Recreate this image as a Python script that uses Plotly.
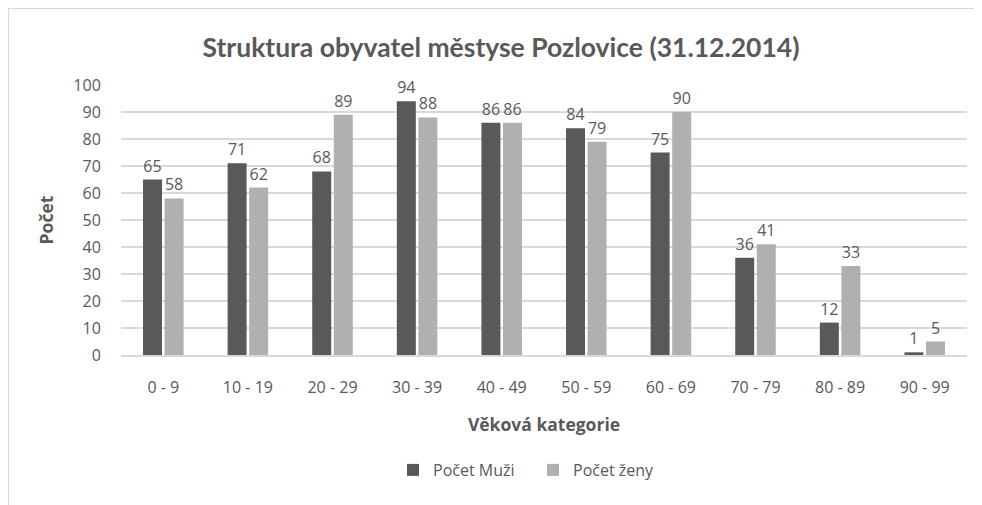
import plotly.graph_objects as go

categories = ["0 - 9", "10 - 19", "20 - 29", "30 - 39", "40 - 49", "50 - 59", "60 - 69", "70 - 79", "80 - 89", "90 - 99"]
muzi = [65, 71, 68, 94, 86, 84, 75, 36, 12, 1]
zeny = [58, 62, 89, 88, 86, 79, 90, 41, 33, 5]
y_ticks = list(range(0, 101, 10))

OFF = 8  # page body margin
W, H = 982 - OFF, 505 - OFF
ML, MR, MT, MB = 121 - OFF, 15, 85 - OFF, 505 - 355
pw, ph = W - ML - MR, H - MT - MB

def px_x(p):
    return (p - OFF - ML) / pw

def px_y(p):
    return (H - MB - (p - OFF)) / ph

txt = "#595959"
font_fam = "Open Sans, sans-serif"

fig = go.Figure()
fig.add_trace(go.Bar(name="Počet Muži", x=categories, y=muzi, marker=dict(color="#595959", line=dict(width=0)),
                     text=muzi, textposition="outside", cliponaxis=False,
                     textfont=dict(size=16, color=txt, family=font_fam)))
fig.add_trace(go.Bar(name="Počet ženy", x=categories, y=zeny, marker=dict(color="#b0b0b0", line=dict(width=0)),
                     text=zeny, textposition="outside", cliponaxis=False,
                     textfont=dict(size=16, color=txt, family=font_fam)))

fig.update_layout(
    width=W, height=H,
    margin=dict(l=ML, r=MR, t=MT, b=MB),
    paper_bgcolor="white", plot_bgcolor="white",
    barmode="group", bargap=0.49, bargroupgap=0.12,
    font=dict(family=font_fam, color=txt, size=15),
    title=dict(text="<b>Struktura obyvatel městyse Pozlovice (31.12.2014)</b>",
               x=(501 - OFF) / W, xanchor="center", y=1 - (48 - OFF) / H, yanchor="middle",
               font=dict(family="Lato, sans-serif", size=26.5, color=txt)),
    xaxis=dict(title=dict(text="<b>Věková kategorie</b>", font=dict(size=17.5, color=txt), standoff=22),
               tickfont=dict(size=16, color=txt), showline=True, linecolor="#d9d9d9",
               linewidth=1.5, ticks="outside", ticklen=17, tickcolor="rgba(0,0,0,0)", showgrid=False),
    yaxis=dict(title=dict(text="<b>Počet</b>", font=dict(size=17.5, color=txt), standoff=15),
               range=[0, 100], tickvals=y_ticks, tickfont=dict(size=16, color=txt),
               showgrid=True, gridcolor="#d9d9d9", gridwidth=1.5, zeroline=False,
               ticks="outside", ticklen=16, tickcolor="rgba(0,0,0,0)"),
    legend=dict(orientation="h", x=px_x(393), xanchor="left", y=px_y(470), yanchor="middle",
                font=dict(size=16, color=txt), itemwidth=30, traceorder="normal",
                entrywidth=95, entrywidthmode="pixels"),
    showlegend=True,
)

fig.add_shape(type="line", xref="paper", yref="paper", x0=px_x(8), x1=px_x(982), y0=px_y(8), y1=px_y(8),
              line=dict(color="#d9d9d9", width=2))
fig.add_shape(type="line", xref="paper", yref="paper", x0=px_x(8), x1=px_x(8), y0=px_y(8), y1=px_y(505),
              line=dict(color="#d9d9d9", width=2))

fig.write_html("out.html")
